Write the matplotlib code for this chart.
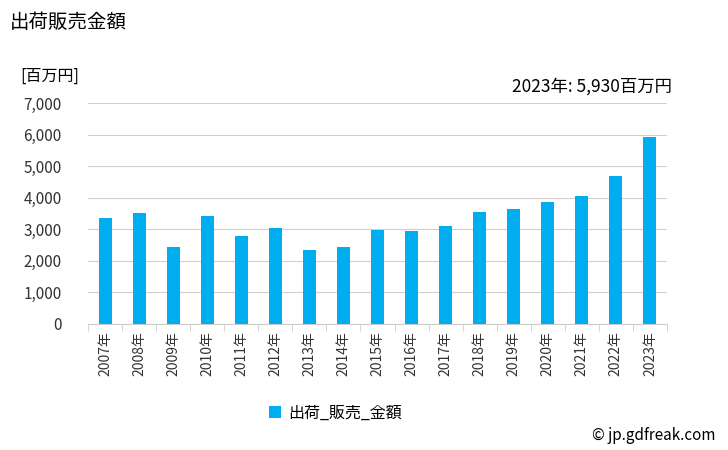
import matplotlib
matplotlib.use("Agg")
import matplotlib.pyplot as plt
import numpy as np

plt.rcParams['font.family'] = ['Noto Sans CJK JP', 'DejaVu Sans']

# data
years = [f"{y}年" for y in range(2007, 2024)]
values = [3363, 3521, 2443, 3426, 2792, 3045, 2347, 2443, 2982,
          2950, 3109, 3553, 3648, 3870, 4060, 4695, 5930]
y_ticks = [0, 1000, 2000, 3000, 4000, 5000, 6000, 7000]
bar_color = '#00aeef'

fig = plt.figure(figsize=(7.28, 4.5), dpi=100)
ax = fig.add_axes([88 / 728, 1 - 324 / 450, (667 - 88) / 728, (324 - 103) / 450])

x = np.arange(len(years))
ax.bar(x, values, width=0.38, color=bar_color, label='出荷_販売_金額', zorder=3)

ax.set_xlim(-0.5, len(years) - 0.5)
ax.set_ylim(0, 7000)
ax.set_yticks(y_ticks)
ax.set_yticklabels([f"{v:,}" for v in y_ticks], fontsize=11, color='#333333')
ax.set_xticks(x)
ax.set_xticklabels(years, rotation=90, fontsize=10, color='#333333')
ax.tick_params(axis='x', length=0, pad=5)
ax.tick_params(axis='y', length=0, pad=19)
# small ticks at category boundaries
ax.set_xticks(np.arange(-0.5, len(years)), minor=True)
ax.tick_params(axis='x', which='minor', length=5, color='#cccccc')

ax.grid(axis='y', color='#d0d0d0', linewidth=0.8, zorder=0)
for s in ['top', 'right', 'left']:
    ax.spines[s].set_visible(False)
ax.spines['bottom'].set_color('#cccccc')

fig.text(10 / 728, 1 - 22 / 450, '出荷販売金額', fontsize=14, va='center', ha='left')
fig.text(20 / 728, 1 - 76 / 450, '[百万円]', fontsize=11.5, va='center', ha='left')
fig.text(672 / 728, 1 - 87 / 450, '2023年: 5,930百万円', fontsize=12.5, va='center', ha='right')
fig.text(716 / 728, 1 - 435 / 450, '© jp.gdfreak.com', fontsize=11, va='center', ha='right')

fig.legend(loc='center', bbox_to_anchor=(335 / 728, 1 - 413 / 450), frameon=False,
           fontsize=11.5, handlelength=0.8, handleheight=0.8, handletextpad=0.4)

fig.savefig('out.png', dpi=100)
